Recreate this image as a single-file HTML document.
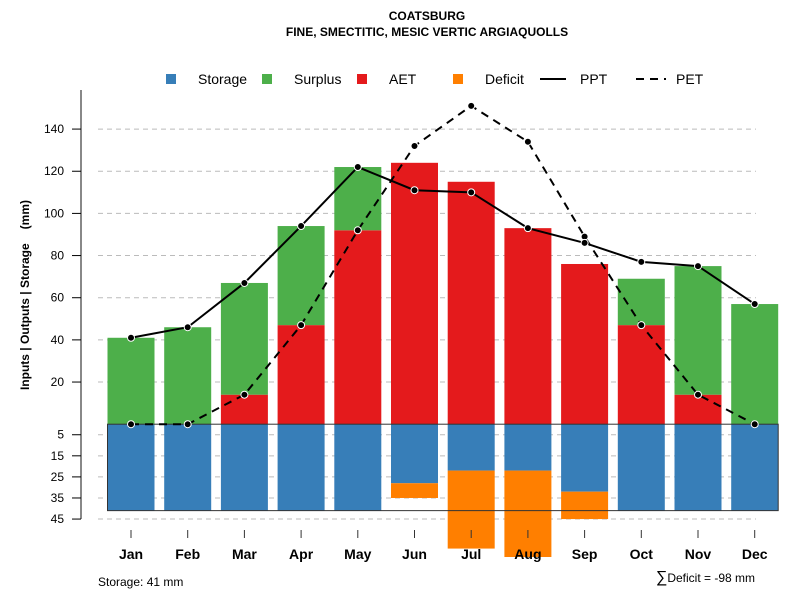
<!DOCTYPE html>
<html><head><meta charset="utf-8"><style>
body{margin:0;background:#fff;font-family:"Liberation Sans",sans-serif;}
svg text{font-family:"Liberation Sans",sans-serif;}
</style></head><body>
<svg id="chart" width="800" height="600" xmlns="http://www.w3.org/2000/svg">
<text x="427" y="20" text-anchor="middle" font-size="12" font-weight="bold">COATSBURG</text>
<text x="427" y="36" text-anchor="middle" font-size="12" font-weight="bold">FINE, SMECTITIC, MESIC VERTIC ARGIAQUOLLS</text>
<g font-size="14">
<rect x="166" y="74" width="10" height="10" fill="#377eb8"/><text x="198" y="84">Storage</text>
<rect x="262" y="74" width="10" height="10" fill="#4daf4a"/><text x="294" y="84">Surplus</text>
<rect x="357" y="74" width="10" height="10" fill="#e41a1c"/><text x="389" y="84">AET</text>
<rect x="453" y="74" width="10" height="10" fill="#ff7f00"/><text x="485" y="84">Deficit</text>
<line x1="540" y1="79" x2="566" y2="79" stroke="#000" stroke-width="2"/><text x="580" y="84">PPT</text>
<line x1="636" y1="79" x2="666" y2="79" stroke="#000" stroke-width="2" stroke-dasharray="8,6"/><text x="676" y="84">PET</text>
</g>
<text transform="translate(29,295) rotate(-90)" text-anchor="middle" font-size="12" font-weight="bold">Inputs | Outputs | Storage<tspan dx="14">(mm)</tspan></text>
<text x="98" y="586" font-size="12">Storage: 41 mm</text>
<text x="755" y="582" text-anchor="end" font-size="12"><tspan font-size="16">∑</tspan>Deficit = -98 mm</text>
<g id="grid"></g><g id="bars"></g><g id="lines"></g><g id="axes"></g>
</svg>
<script>
const months=["Jan","Feb","Mar","Apr","May","Jun","Jul","Aug","Sep","Oct","Nov","Dec"];
const aet=[0,0,14,47,92,124,115,93,76,47,14,0];
const surplus=[41,46,53,47,30,0,0,0,0,22,61,57];
const storage=[41,41,41,41,41,28,22,22,32,41,41,41];
const deficit=[0,0,0,0,0,7,37,41,13,0,0,0];
const ppt=[41,46,67,94,122,111,110,93,86,77,75,57];
const pet=[0,0,14,47,92,132,151,134,89,47,14,0];
const upTicks=[20,40,60,80,100,120,140];
const downTicks=[5,15,25,35,45];
const storageCap=41;
const NS="http://www.w3.org/2000/svg";
const y0=424.2,k=2.108;
const yUp=v=>y0-v*k, yDn=v=>y0+v*k;
const xC=i=>131+i*56.7, bw=47;
function el(tag,a,p){const e=document.createElementNS(NS,tag);for(const n in a)e.setAttribute(n,a[n]);document.getElementById(p).appendChild(e);return e;}
upTicks.forEach(t=>{const g=el('line',{x1:98,x2:756,y1:yUp(t),y2:yUp(t),stroke:'#bbb','stroke-dasharray':'5,4'},'grid');

});
downTicks.forEach(t=>{const g=el('line',{x1:98,x2:756,y1:yDn(t),y2:yDn(t),stroke:'#bbb','stroke-dasharray':'5,4'},'grid');

});
months.forEach((m,i)=>{
 const x=xC(i)-bw/2;
 let r=el('rect',{x:x,y:yUp(aet[i]),width:bw,height:aet[i]*k,fill:'#e41a1c'},'bars');
 
 
 r=el('rect',{x:x,y:yUp(aet[i]+surplus[i]),width:bw,height:surplus[i]*k,fill:'#4daf4a'},'bars');
 
 
 r=el('rect',{x:x,y:y0,width:bw,height:storage[i]*k,fill:'#377eb8'},'bars');
 
 
 r=el('rect',{x:x,y:yDn(storage[i]),width:bw,height:deficit[i]*k,fill:'#ff7f00'},'bars');
 
 
 let t=el('line',{x1:xC(i),x2:xC(i),y1:530,y2:538,stroke:'#333'},'axes');
 
 
 t=el('text',{x:xC(i),y:559,'text-anchor':'middle','font-size':14,'font-weight':'bold'},'axes');t.textContent=m;
 
 
});
let box=el('rect',{x:xC(0)-bw/2,y:y0,width:xC(11)+bw/2-(xC(0)-bw/2),height:storageCap*k,fill:'none',stroke:'#333','stroke-width':1},'bars');


function series(vals,dash,name){
 const p=el('polyline',{points:vals.map((v,i)=>xC(i)+','+yUp(v)).join(' '),fill:'none',stroke:'#000','stroke-width':2,'stroke-dasharray':dash},'lines');
 
 
 vals.forEach((v,i)=>{const c=el('circle',{cx:xC(i),cy:yUp(v),r:3.5,fill:'#000',stroke:'#fff','stroke-width':1},'lines');
 
 });
}
series(pet,'8,6','pet');
series(ppt,'none','ppt');
let ax=el('line',{x1:81,x2:81,y1:90,y2:yDn(45),stroke:'#888','stroke-width':2},'axes');


upTicks.forEach(t=>{let l=el('line',{x1:72,x2:81,y1:yUp(t),y2:yUp(t),stroke:'#000'},'axes');


let tx=el('text',{x:64,y:yUp(t)+4,'text-anchor':'end','font-size':12},'axes');tx.textContent=t;

});
downTicks.forEach(t=>{let l=el('line',{x1:72,x2:81,y1:yDn(t),y2:yDn(t),stroke:'#000'},'axes');


let tx=el('text',{x:64,y:yDn(t)+4,'text-anchor':'end','font-size':12},'axes');tx.textContent=t;

});
</script>
</body></html>
